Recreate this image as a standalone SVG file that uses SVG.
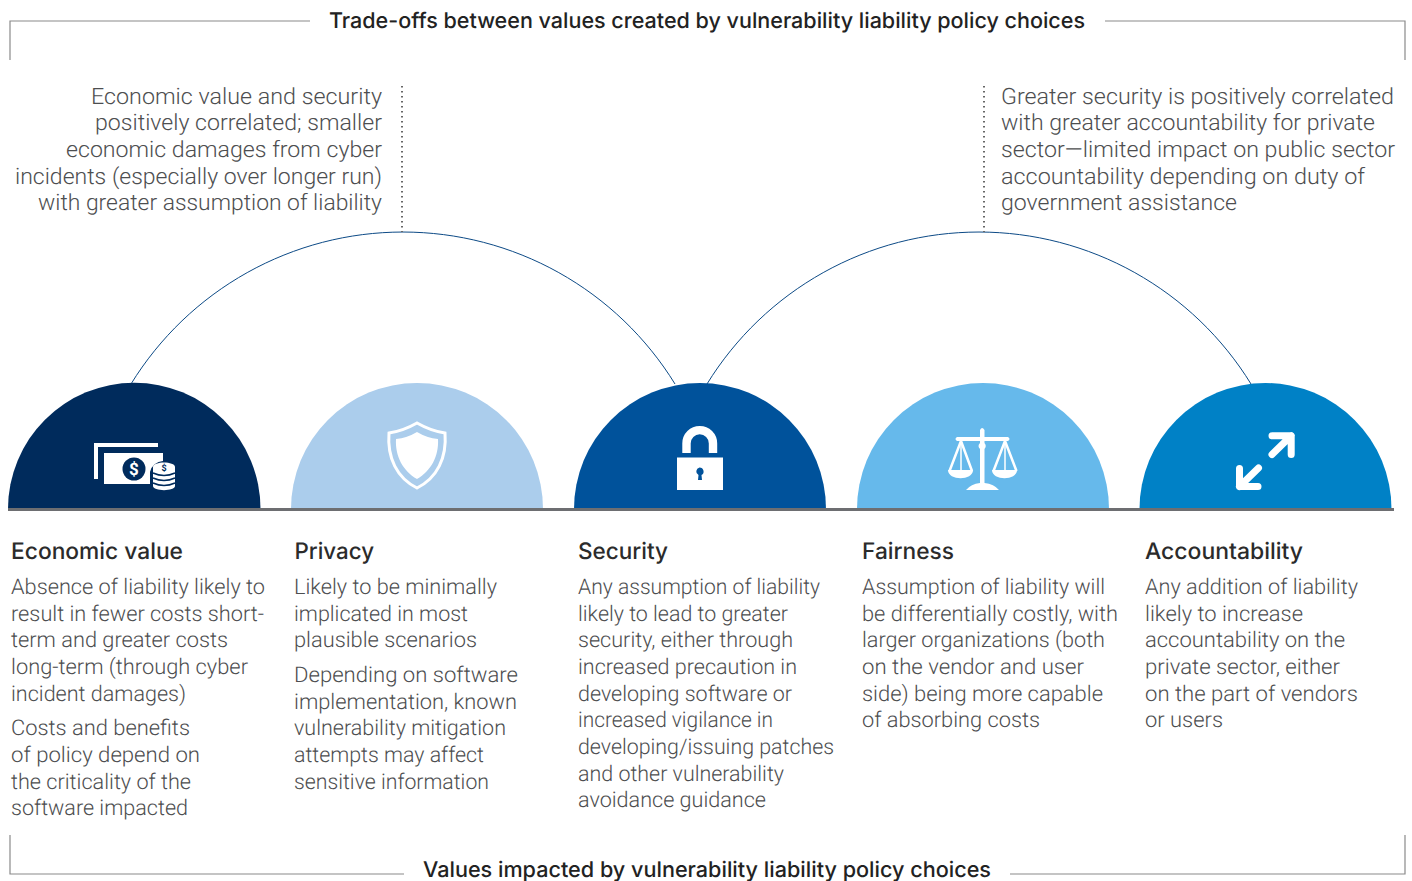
<svg xmlns="http://www.w3.org/2000/svg" width="1412" height="881" viewBox="0 0 1412 881">
<style>
text{font-family:"Roboto","Liberation Sans",sans-serif;text-rendering:geometricPrecision}
.b{font-size:21.6px;fill:#4d4e50;font-weight:300}
.n{font-size:22.5px;fill:#4d4e50;font-weight:300}
.h{font-family:"Inter","Liberation Sans",sans-serif;font-size:22.8px;fill:#2b2b2b;font-weight:500}
.t{font-family:"Inter","Liberation Sans",sans-serif;font-size:21.5px;fill:#222;font-weight:500}
.r{text-anchor:end}
.f{fill:none;stroke:#8a8a8a;stroke-width:1.2}
.arc{fill:none;stroke:#0c4a86;stroke-width:1}
.dot{fill:none;stroke:#666;stroke-width:2;stroke-dasharray:1.5 3.5}
.w{fill:#fff}
</style>
<rect width="1412" height="881" fill="#fff"/>
<g id="frames">
<path class="f" d="M10 60V21H310M1105 21H1405V60"/>
<path class="f" d="M10 835V874H404M1010 874H1405V835"/>
</g>
<g id="connectors">
<path class="arc" d="M131 384A319.4 319.4 0 0 1 675 384"/>
<path class="arc" d="M707 384A319.4 319.4 0 0 1 1251 384"/>
<path class="dot" d="M402 86V232"/>
<path class="dot" d="M984 86V232"/>
</g>
<text class="t" x="329" y="28" textLength="756" lengthAdjust="spacingAndGlyphs">Trade-offs between values created by vulnerability liability policy choices</text>
<text class="t" x="423" y="876.500" textLength="568" lengthAdjust="spacingAndGlyphs">Values impacted by vulnerability liability policy choices</text>
<g id="note-left">
<text class="n r" x="382" y="104" textLength="291" lengthAdjust="spacingAndGlyphs">Economic value and security</text>
<text class="n r" x="382" y="130" textLength="287" lengthAdjust="spacingAndGlyphs">positively correlated; smaller</text>
<text class="n r" x="382" y="157" textLength="316" lengthAdjust="spacingAndGlyphs">economic damages from cyber</text>
<text class="n r" x="382" y="184" textLength="367" lengthAdjust="spacingAndGlyphs">incidents (especially over longer run)</text>
<text class="n r" x="382" y="210" textLength="344" lengthAdjust="spacingAndGlyphs">with greater assumption of liability</text>
</g>
<g id="note-right">
<text class="n" x="1001" y="104" textLength="393" lengthAdjust="spacingAndGlyphs">Greater security is positively correlated</text>
<text class="n" x="1001" y="130" textLength="374" lengthAdjust="spacingAndGlyphs">with greater accountability for private</text>
<text class="n" x="1001" y="157" textLength="394" lengthAdjust="spacingAndGlyphs">sector—limited impact on public sector</text>
<text class="n" x="1001" y="184" textLength="364" lengthAdjust="spacingAndGlyphs">accountability depending on duty of</text>
<text class="n" x="1001" y="210" textLength="236" lengthAdjust="spacingAndGlyphs">government assistance</text>
</g>
<g id="economic">
<path d="M8 509A126 126 0 0 1 260.500 509Z" fill="#002b5c"/>
<path class="w" d="M94 443H158V447H98V479H94Z"/>
<path class="w" d="M104 453H163V461A14 14 0 0 0 150 472V484H104Z"/>
<circle cx="134" cy="469" r="11.500" fill="#002b5c"/>
<text x="134" y="475" font-size="17" font-weight="700" fill="#fff" text-anchor="middle">$</text>
<path class="w" d="M153 467C153 461 175 461 175 467V486C175 491.500 153 491.500 153 486Z"/>
<path d="M153 473Q164 478 175 473M153 478Q164 483 175 478M153 483Q164 488 175 483" fill="none" stroke="#002b5c" stroke-width="1.400"/>
<text x="164" y="471" font-size="9" font-weight="700" fill="#002b5c" text-anchor="middle">$</text>
</g>
<g id="privacy">
<path d="M291 509A126 126 0 0 1 543 509Z" fill="#abcdec"/>
<path d="M417 423Q431 431 445 433C447 458 437 478 417 488C397 478 387 458 389 433Q403 431 417 423Z" fill="none" stroke="#fff" stroke-width="3"/>
<path class="w" d="M417 432Q427 438 438 439C439 456 431 471 417 479C403 471 395 456 396 439Q407 438 417 432Z"/>
</g>
<g id="security">
<path d="M574 509A126 126 0 0 1 826 509Z" fill="#00529b"/>
<path d="M686.500 453V443.400A13.250 13.250 0 0 1 713 443.400V453" fill="none" stroke="#fff" stroke-width="8.400"/>
<path class="w" d="M677 457.500H723V490H677Z"/>
<path d="M699.500 467.500A4 4 0 0 1 701.500 475L702 480H698L698.500 475A4 4 0 0 1 699.500 467.500Z" fill="#00529b"/>
</g>
<g id="fairness">
<path d="M857 509A126 126 0 0 1 1109 509Z" fill="#66b9eb"/>
<path class="w" d="M980 430Q982 426 984.500 430V437H1008Q1011 439 1008 441H984.500V443Q987 446 984.500 449V483Q994 484 999 490H966Q971 484 980 483V449Q977 446 980 443V441H957Q954 439 957 437H980Z"/>
<g fill="none" stroke="#fff" stroke-width="2.500" stroke-linejoin="round">
<path d="M961 441L949.500 471M961 441L972 471"/>
<path d="M1005 441L993.500 471M1005 441L1016.500 471"/>
</g>
<path d="M961 441V471M1005 441V471" fill="none" stroke="#fff" stroke-width="1.500"/>
<path class="w" d="M948 470H973C973 481 948 481 948 470Z"/>
<path class="w" d="M992 470H1017C1017 481 992 481 992 470Z"/>
</g>
<g id="accountability">
<path d="M1139.500 509A126 126 0 0 1 1391.500 509Z" fill="#0081c6"/>
<g fill="none" stroke="#fff" stroke-width="7" stroke-linecap="round" stroke-linejoin="round">
<path d="M1272 435.800H1291.200V454.500M1291.200 435.800L1272 454.500"/>
<path d="M1239.500 468.500V486.500H1258M1239.500 486.500L1258.500 468"/>
</g>
</g>
<path id="baseline" d="M8 509.500H1394" stroke="#6d6e71" stroke-width="3"/>
<g id="text-economic">
<text class="h" x="11" y="559" textLength="172" lengthAdjust="spacingAndGlyphs">Economic value</text>
<text class="b" x="11" y="594" textLength="254" lengthAdjust="spacingAndGlyphs">Absence of liability likely to</text>
<text class="b" x="11" y="621" textLength="253" lengthAdjust="spacingAndGlyphs">result in fewer costs short-</text>
<text class="b" x="11" y="647" textLength="217" lengthAdjust="spacingAndGlyphs">term and greater costs</text>
<text class="b" x="11" y="674" textLength="237" lengthAdjust="spacingAndGlyphs">long-term (through cyber</text>
<text class="b" x="11" y="701" textLength="175" lengthAdjust="spacingAndGlyphs">incident damages)</text>
<text class="b" x="11" y="735" textLength="179" lengthAdjust="spacingAndGlyphs">Costs and benefits</text>
<text class="b" x="11" y="762" textLength="189" lengthAdjust="spacingAndGlyphs">of policy depend on</text>
<text class="b" x="11" y="789" textLength="180" lengthAdjust="spacingAndGlyphs">the criticality of the</text>
<text class="b" x="11" y="815" textLength="177" lengthAdjust="spacingAndGlyphs">software impacted</text>
</g>
<g id="text-privacy">
<text class="h" x="294.500" y="559" textLength="79.500" lengthAdjust="spacingAndGlyphs">Privacy</text>
<text class="b" x="294" y="594" textLength="203" lengthAdjust="spacingAndGlyphs">Likely to be minimally</text>
<text class="b" x="294" y="621" textLength="174" lengthAdjust="spacingAndGlyphs">implicated in most</text>
<text class="b" x="294" y="647" textLength="183" lengthAdjust="spacingAndGlyphs">plausible scenarios</text>
<text class="b" x="294" y="682" textLength="224" lengthAdjust="spacingAndGlyphs">Depending on software</text>
<text class="b" x="294" y="709" textLength="223" lengthAdjust="spacingAndGlyphs">implementation, known</text>
<text class="b" x="294" y="735" textLength="212" lengthAdjust="spacingAndGlyphs">vulnerability mitigation</text>
<text class="b" x="294" y="762" textLength="190" lengthAdjust="spacingAndGlyphs">attempts may affect</text>
<text class="b" x="294" y="789" textLength="195" lengthAdjust="spacingAndGlyphs">sensitive information</text>
</g>
<g id="text-security">
<text class="h" x="578" y="559" textLength="90" lengthAdjust="spacingAndGlyphs">Security</text>
<text class="b" x="578" y="594" textLength="242" lengthAdjust="spacingAndGlyphs">Any assumption of liability</text>
<text class="b" x="578" y="621" textLength="210" lengthAdjust="spacingAndGlyphs">likely to lead to greater</text>
<text class="b" x="578" y="647" textLength="215" lengthAdjust="spacingAndGlyphs">security, either through</text>
<text class="b" x="578" y="674" textLength="219" lengthAdjust="spacingAndGlyphs">increased precaution in</text>
<text class="b" x="578" y="701" textLength="214" lengthAdjust="spacingAndGlyphs">developing software or</text>
<text class="b" x="578" y="727" textLength="195" lengthAdjust="spacingAndGlyphs">increased vigilance in</text>
<text class="b" x="578" y="754" textLength="256" lengthAdjust="spacingAndGlyphs">developing/issuing patches</text>
<text class="b" x="578" y="781" textLength="206" lengthAdjust="spacingAndGlyphs">and other vulnerability</text>
<text class="b" x="578" y="807" textLength="188" lengthAdjust="spacingAndGlyphs">avoidance guidance</text>
</g>
<g id="text-fairness">
<text class="h" x="862" y="559" textLength="92" lengthAdjust="spacingAndGlyphs">Fairness</text>
<text class="b" x="862" y="594" textLength="243" lengthAdjust="spacingAndGlyphs">Assumption of liability will</text>
<text class="b" x="862" y="621" textLength="256" lengthAdjust="spacingAndGlyphs">be differentially costly, with</text>
<text class="b" x="862" y="647" textLength="243" lengthAdjust="spacingAndGlyphs">larger organizations (both</text>
<text class="b" x="862" y="674" textLength="222" lengthAdjust="spacingAndGlyphs">on the vendor and user</text>
<text class="b" x="862" y="701" textLength="241" lengthAdjust="spacingAndGlyphs">side) being more capable</text>
<text class="b" x="862" y="727" textLength="178" lengthAdjust="spacingAndGlyphs">of absorbing costs</text>
</g>
<g id="text-accountability">
<text class="h" x="1145" y="559" textLength="158" lengthAdjust="spacingAndGlyphs">Accountability</text>
<text class="b" x="1145" y="594" textLength="213" lengthAdjust="spacingAndGlyphs">Any addition of liability</text>
<text class="b" x="1145" y="621" textLength="158" lengthAdjust="spacingAndGlyphs">likely to increase</text>
<text class="b" x="1145" y="647" textLength="200" lengthAdjust="spacingAndGlyphs">accountability on the</text>
<text class="b" x="1145" y="674" textLength="195" lengthAdjust="spacingAndGlyphs">private sector, either</text>
<text class="b" x="1145" y="701" textLength="213" lengthAdjust="spacingAndGlyphs">on the part of vendors</text>
<text class="b" x="1145" y="727" textLength="78" lengthAdjust="spacingAndGlyphs">or users</text>
</g>
</svg>
